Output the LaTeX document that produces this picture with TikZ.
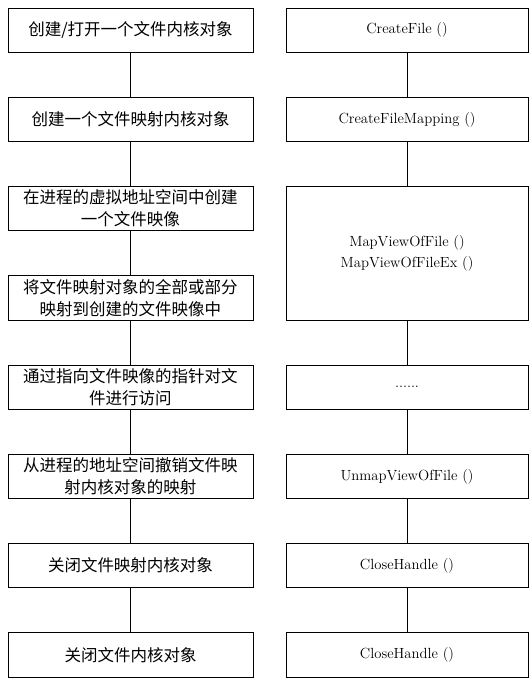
\documentclass[tikz,border=0pt]{standalone}
\usepackage{fontspec}
\newfontfamily\cjk{Noto Sans CJK SC}
\usetikzlibrary{positioning}

\begin{document}
\begin{tikzpicture}[x=1pt,y=1pt,line width=.9pt,outer sep=0pt,node distance=45pt,
  lbox/.style={draw,minimum width=245pt,minimum height=44.25pt,align=center,font=\cjk\fontsize{16.5}{22}\selectfont},
  rbox/.style={draw,minimum width=242pt,minimum height=44.25pt,align=center,font=\fontsize{14.7}{20.5}\selectfont}]
\useasboundingbox (0,0) rectangle (529,-678);
\draw node [lbox] (L1) at (130.5,-30.1) {创建/打开一个文件内核对象};
\draw node [lbox] [below=of L1] (L2) {创建一个文件映射内核对象};
\draw node [lbox] [below=of L2] (L3) {在进程的虚拟地址空间中创建\\一个文件映像};
\draw node [lbox] [below=of L3] (L4) {将文件映射对象的全部或部分\\映射到创建的文件映像中};
\draw node [lbox] [below=of L4] (L5) {通过指向文件映像的指针对文\\件进行访问};
\draw node [lbox] [below=of L5] (L6) {从进程的地址空间撤销文件映\\射内核对象的映射};
\draw node [lbox] [below=of L6] (L7) {关闭文件映射内核对象};
\draw node [lbox] [below=of L7] (L8) {关闭文件内核对象};
\draw node [rbox] (R1) at (407,-30.1) {CreateFile ()};
\draw node [rbox] [below=of R1] (R2) {CreateFileMapping ()};
\draw node [rbox,minimum height=133.5pt] [below=of R2] (R3) {MapViewOfFile ()\\MapViewOfFileEx ()};
\draw node [rbox] [below=of R3] (R4) {......};
\draw node [rbox] [below=of R4] (R5) {UnmapViewOfFile ()};
\draw node [rbox] [below=of R5] (R6) {CloseHandle ()};
\draw node [rbox] [below=of R6] (R7) {CloseHandle ()};
\draw (L1) -- (L2);
\draw (L2) -- (L3);
\draw (L3) -- (L4);
\draw (L4) -- (L5);
\draw (L5) -- (L6);
\draw (L6) -- (L7);
\draw (L7) -- (L8);
\draw (R1) -- (R2);
\draw (R2) -- (R3);
\draw (R3) -- (R4);
\draw (R4) -- (R5);
\draw (R5) -- (R6);
\draw (R6) -- (R7);
\end{tikzpicture}
\end{document}
